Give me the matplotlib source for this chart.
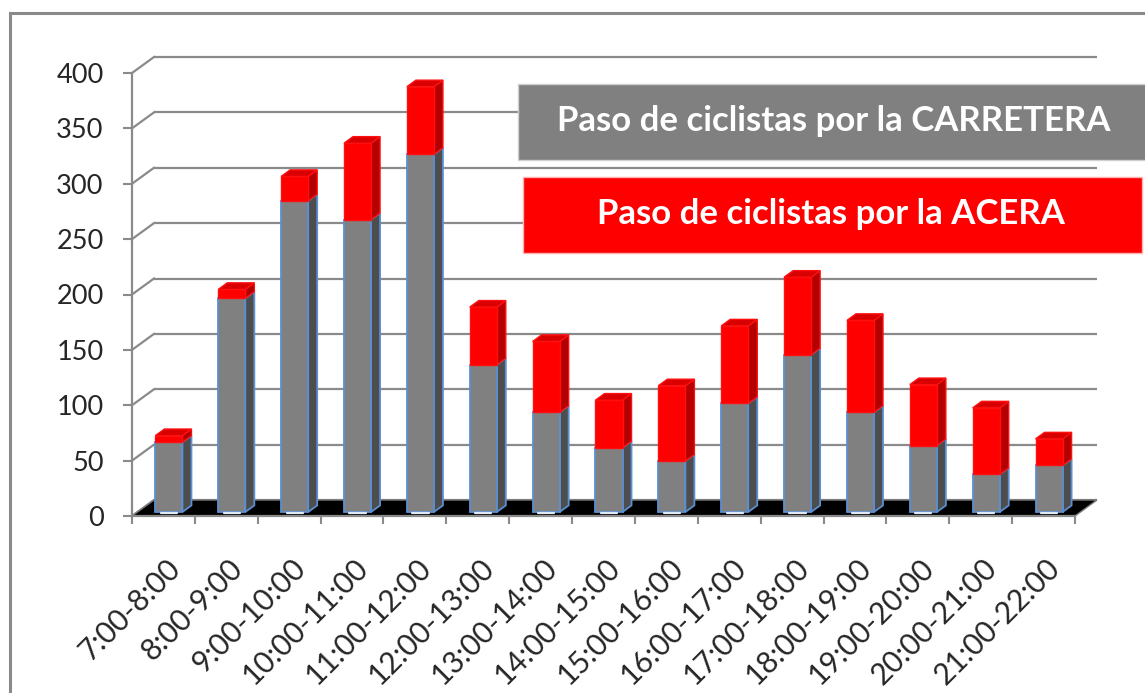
import numpy as np
import matplotlib.pyplot as plt
from matplotlib.patches import Polygon, Rectangle
from matplotlib.lines import Line2D
from matplotlib.transforms import ScaledTranslation

plt.rcParams['font.family'] = ['Lato', 'DejaVu Sans']

# datos
franjas = ['7:00-8:00', '8:00-9:00', '9:00-10:00', '10:00-11:00', '11:00-12:00',
           '12:00-13:00', '13:00-14:00', '14:00-15:00', '15:00-16:00', '16:00-17:00',
           '17:00-18:00', '18:00-19:00', '19:00-20:00', '20:00-21:00', '21:00-22:00']
carretera = [63, 193, 281, 264, 323, 133, 90, 58, 46, 98, 142, 90, 60, 34, 42]
acera = [6, 8, 22, 69, 61, 52, 64, 43, 68, 70, 70, 83, 55, 60, 24]
yticks = [0, 50, 100, 150, 200, 250, 300, 350, 400]
leyenda = ['Paso de ciclistas por la CARRETERA', 'Paso de ciclistas por la ACERA']

W, H = 1145, 693
fig = plt.figure(figsize=(W / 100, H / 100), dpi=100)

def fx(px):
    return px / W

def fy(py):
    return 1 - py / H

# ejes = plano frontal del grafico 3D
ax = fig.add_axes([fx(132), fy(516), fx(1075) - fx(132), fy(73) - fy(516)])
n = len(franjas)
ax.set_xlim(-0.5, n - 0.5)
ax.set_ylim(0, 400)

# profundidad (en unidades de datos)
Dx = 22 / 62.9
Dy = 16 / 1.1075
f0, f1 = 0.25, 0.66
w = 0.43
gris_linea = '#8a8a8a'

# pared del fondo y lateral
for v in yticks:
    ax.plot([-0.5 + Dx, n - 0.5 + Dx], [v + Dy, v + Dy], color=gris_linea, lw=1.6,
            clip_on=False, zorder=1, solid_capstyle='butt')
    ax.plot([-0.5, -0.5 + Dx], [v, v + Dy], color=gris_linea, lw=1.6,
            clip_on=False, zorder=1)

# suelo negro
suelo = Polygon([(-0.5, 0), (n - 0.5, 0), (n - 0.5 + Dx, Dy), (-0.5 + Dx, Dy)],
                closed=True, facecolor='black', edgecolor='#7a7a7a', lw=1.0,
                clip_on=False, zorder=2)
ax.add_patch(suelo)

x = np.arange(n)
base = f0 * Dy
xs = x + f0 * Dx
tot = np.array(carretera) + np.array(acera)

ax.bar(xs, carretera, width=w, bottom=base, color='#808080', edgecolor='#5b8fd0',
       lw=1.3, zorder=4, clip_on=False)
ax.bar(xs, acera, width=w, bottom=base + np.array(carretera), color='#ff0000',
       edgecolor='#ff1010', lw=1.0, zorder=4, clip_on=False)

ddx = (f1 - f0) * Dx
ddy = (f1 - f0) * Dy
for i in range(n):
    x1 = xs[i] + w / 2
    x0 = xs[i] - w / 2
    c = carretera[i] + base
    t = tot[i] + base
    # laterales
    ax.add_patch(Polygon([(x1, base), (x1 + ddx, base + ddy), (x1 + ddx, c + ddy), (x1, c)],
                         facecolor='#4d4d4d', edgecolor='#5b8fd0', lw=1.3, zorder=3,
                         clip_on=False))
    ax.add_patch(Polygon([(x1, c), (x1 + ddx, c + ddy), (x1 + ddx, t + ddy), (x1, t)],
                         facecolor='#b40000', edgecolor='#ff1010', lw=1.0, zorder=3,
                         clip_on=False))
    # tapa
    ax.add_patch(Polygon([(x0, t), (x1, t), (x1 + ddx, t + ddy), (x0 + ddx, t + ddy)],
                         facecolor='#d80000', edgecolor='#ff1010', lw=1.0, zorder=5,
                         clip_on=False))
    # brillo en la base
    ax.plot([xs[i] - w * 0.3, xs[i] + w * 0.3], [base - 0.6, base - 0.6], color='#dfe8f5',
            lw=1.6, zorder=4.5, clip_on=False, solid_capstyle='round')

# ejes
for s in ['top', 'right']:
    ax.spines[s].set_visible(False)
for s in ['left', 'bottom']:
    ax.spines[s].set_color(gris_linea)
    ax.spines[s].set_linewidth(1.6)
    ax.spines[s].set_zorder(6)
ax.set_facecolor('none')
ax.set_yticks(yticks)
ax.tick_params(axis='y', length=6.5, width=1.5, color=gris_linea, pad=14,
               labelsize=19.5, labelcolor='#262626')
ax.set_xticks(x)
ax.set_xticklabels(franjas, rotation=45, ha='right', rotation_mode='anchor',
                   fontsize=21.5, color='#262626')
ax.tick_params(axis='x', which='major', length=0, pad=27)
ax.set_xticks(np.arange(-0.5, n, 1), minor=True)
ax.tick_params(axis='x', which='minor', length=5.5, width=1.5, color=gris_linea)
desplaza = ScaledTranslation(2 / 100, 0, fig.dpi_scale_trans)
for lab in ax.get_xticklabels():
    lab.set_transform(lab.get_transform() + desplaza)

# leyenda como cajas de color
fig.patches.append(Rectangle((fx(518), fy(160)), fx(1145) - fx(518) + 0.01, fy(84) - fy(160),
                             transform=fig.transFigure, facecolor='#808080',
                             edgecolor='#d0d0d0', lw=1, zorder=10))
fig.patches.append(Rectangle((fx(523), fy(253)), fx(1142) - fx(523), fy(177) - fy(253),
                             transform=fig.transFigure, facecolor='#ff0000',
                             edgecolor='#ffb0b0', lw=1, zorder=10))
fig.text(fx(834), fy(121), leyenda[0], color='white', fontsize=25, fontweight='bold',
         ha='center', va='center', zorder=11)
fig.text(fx(831), fy(214), leyenda[1], color='white', fontsize=25, fontweight='bold',
         ha='center', va='center', zorder=11)

# marco exterior
fig.add_artist(Line2D([fx(10), fx(10)], [fy(13), 0], color=gris_linea, lw=2.2))
fig.add_artist(Line2D([fx(10), 1], [fy(13), fy(13)], color=gris_linea, lw=2.2))

fig.savefig('out.png', dpi=100)
